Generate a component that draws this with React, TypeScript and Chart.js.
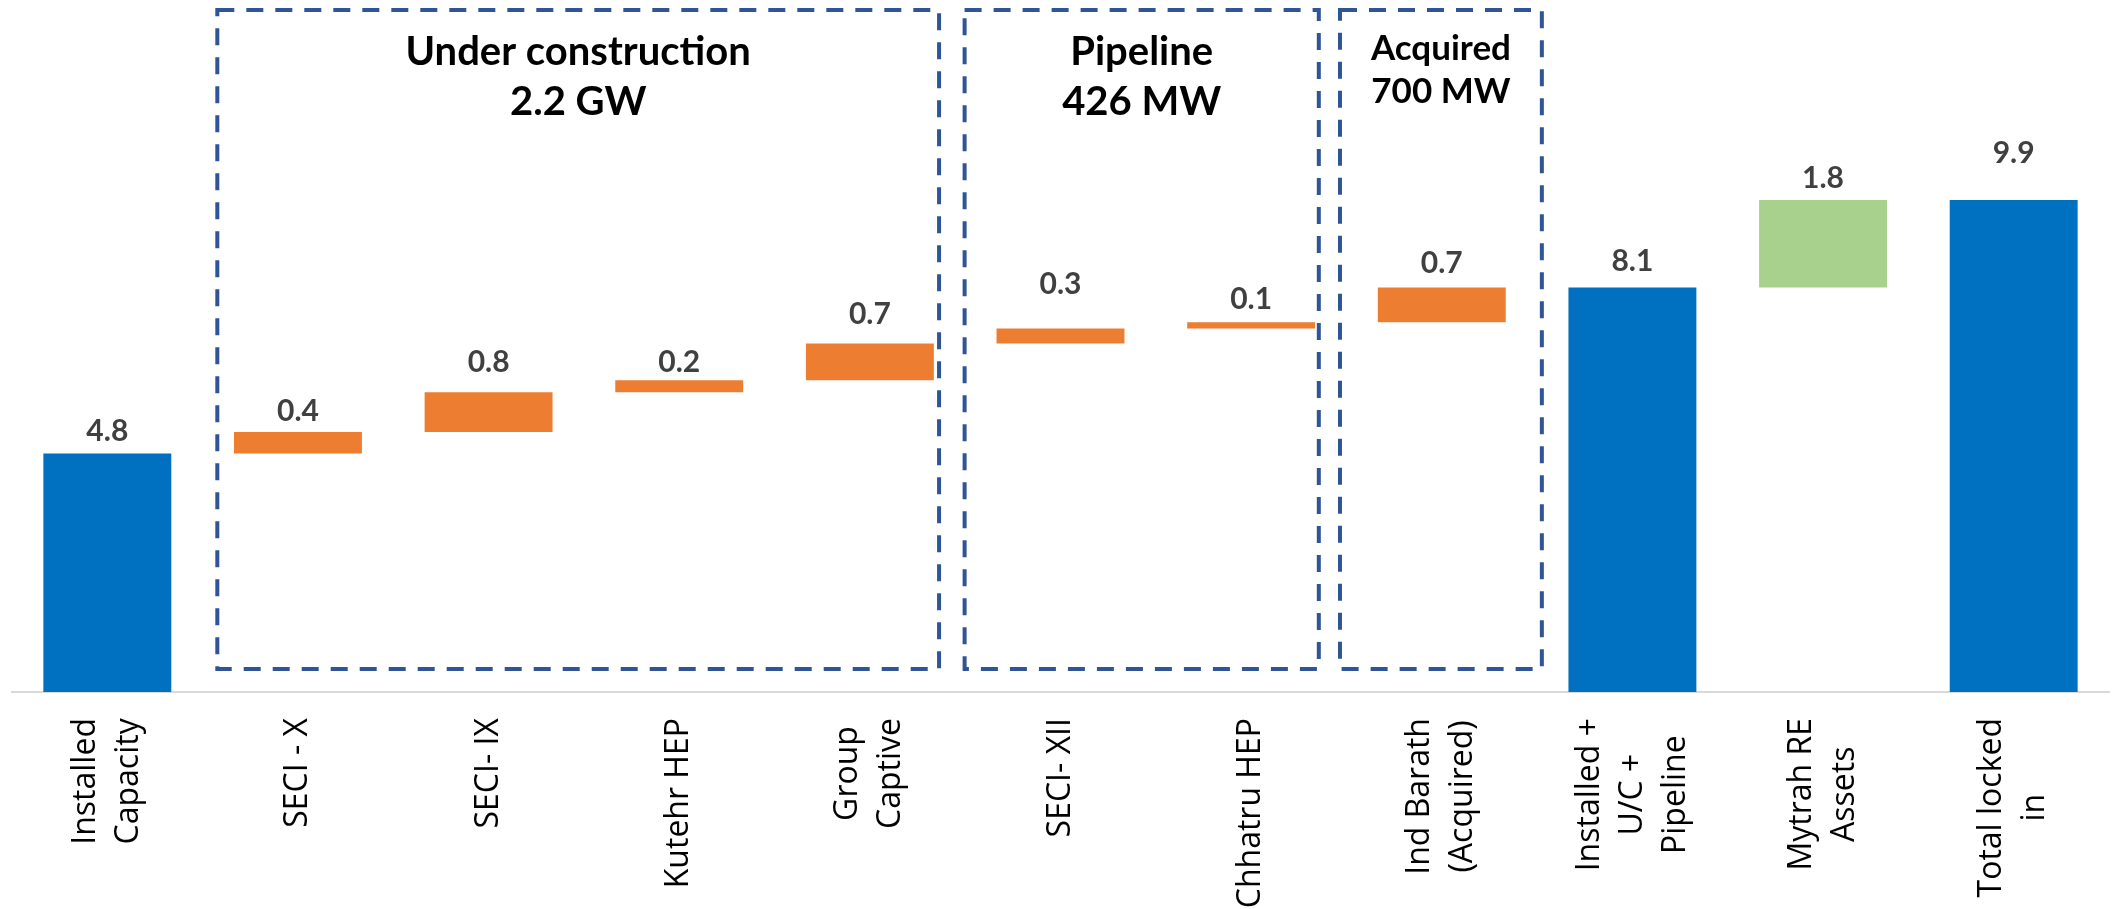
import React, { useEffect, useRef } from "react";
import { Chart, registerables } from "chart.js";

Chart.register(...registerables);

// ---- data ----
const categories: string[][] = [
  ["Installed", "Capacity"],
  ["SECI - X"],
  ["SECI- IX"],
  ["Kutehr HEP"],
  ["Group", "Captive"],
  ["SECI- XII"],
  ["Chhatru HEP"],
  ["Ind Barath", "(Acquired)"],
  ["Installed +", "U/C +", "Pipeline"],
  ["Mytrah RE", "Assets"],
  ["Total locked", "in"],
];
const values = [4.8, 0.43, 0.8, 0.24, 0.74, 0.3, 0.126, 0.7, 8.136, 1.76, 9.896];
const kinds = ["total", "step", "step", "step", "step", "step", "step", "step", "total", "extra", "total"];

// ---- styling / annotations ----
const kindColors: Record<string, string> = { total: "#0070C0", step: "#ED7D31", extra: "#A9D18E" };
const labelGaps = [12, 11, 20, 8, 20, 35, 13, 15, 17, 12, 37];
const groupBoxes = [
  { from: 0.577, to: 4.363, lines: ["Under construction", "2.2 GW"], size: 40, offs: [55, 105] },
  { from: 4.497, to: 6.355, lines: ["Pipeline", "426 MW"], size: 40, offs: [55, 105] },
  { from: 6.466, to: 7.525, lines: ["Acquired", "700 MW"], size: 35, offs: [50, 93] },
];
const boxTopValue = 13.717;
const boxBottomValue = 0.463;

function buildRanges(): [number, number][] {
  let running = 0;
  return values.map((v, i) => {
    if (kinds[i] === "total") {
      running = v;
      return [0, v];
    }
    const r: [number, number] = [running, running + v];
    running += v;
    return r;
  });
}

const overlayPlugin = {
  id: "overlay",
  afterDraw(chart: any) {
    const ctx: CanvasRenderingContext2D = chart.ctx;
    const xs = chart.scales.x;
    const ys = chart.scales.y;
    const area = chart.chartArea;
    const x0 = xs.getPixelForValue(0);
    const step = xs.getPixelForValue(1) - x0;
    const ranges = buildRanges();

    ctx.save();
    // group boxes
    ctx.strokeStyle = "#2F5597";
    ctx.lineWidth = 4;
    ctx.setLineDash([17, 12]);
    const top = ys.getPixelForValue(boxTopValue);
    const bottom = ys.getPixelForValue(boxBottomValue);
    for (const b of groupBoxes) {
      const l = x0 + b.from * step;
      const r = x0 + b.to * step;
      ctx.strokeRect(l, top, r - l, bottom - top);
    }
    ctx.setLineDash([]);
    ctx.fillStyle = "#000000";
    ctx.textAlign = "center";
    ctx.textBaseline = "alphabetic";
    for (const b of groupBoxes) {
      const cx = x0 + ((b.from + b.to) / 2) * step;
      ctx.font = `bold ${b.size}px Lato, "Open Sans", sans-serif`;
      b.lines.forEach((t, k) => ctx.fillText(t, cx, top + b.offs[k]));
    }

    // data labels
    ctx.fillStyle = "#404040";
    ctx.font = `bold 30px Lato, "Open Sans", sans-serif`;
    values.forEach((v, i) => {
      const x = xs.getPixelForValue(i);
      const y = ys.getPixelForValue(ranges[i][1]);
      ctx.fillText(v.toFixed(1), x, y - labelGaps[i]);
    });

    // category labels (rotated, centered lines)
    ctx.fillStyle = "#000000";
    ctx.font = `32px "Open Sans", sans-serif`;
    const lh = 43;
    categories.forEach((lines, i) => {
      const x = xs.getPixelForTick(i);
      const yTop = area.bottom + 26;
      const maxW = Math.max(...lines.map((t) => ctx.measureText(t).width));
      ctx.save();
      ctx.translate(x, yTop);
      ctx.rotate(-Math.PI / 2);
      ctx.textAlign = "center";
      ctx.textBaseline = "middle";
      lines.forEach((t, k) => {
        const ly = (k - (lines.length - 1) / 2) * lh;
        ctx.fillText(t, -maxW / 2, ly);
      });
      ctx.restore();
    });
    ctx.restore();
  },
};

export default function App() {
  const ref = useRef<HTMLCanvasElement | null>(null);
  useEffect(() => {
    document.body.style.margin = "0";
    document.body.style.overflow = "hidden";
    const canvas = ref.current;
    if (!canvas) return;
    const ranges = buildRanges();
    const chart = new Chart(canvas, {
      type: "bar",
      data: {
        labels: categories.map((c) => c.join(" ")),
        datasets: [
          {
            data: ranges as any,
            backgroundColor: kinds.map((k) => kindColors[k]),
            borderWidth: 0,
            categoryPercentage: 1,
            barPercentage: 0.671,
          },
        ],
      },
      options: {
        responsive: false,
        animation: false,
        layout: { padding: { left: 12, right: 5, top: 0, bottom: 0 } },
        plugins: { legend: { display: false }, tooltip: { enabled: false }, title: { display: false } },
        scales: {
          x: {
            grid: { display: false },
            border: { display: true, color: "#D9D9D9", width: 2 },
            ticks: { display: false },
            afterFit: (scale: any) => {
              scale.height = 217;
            },
          },
          y: {
            display: false,
            min: 0,
            max: 13.92,
          },
        },
      },
      plugins: [overlayPlugin],
    });
    return () => chart.destroy();
  }, []);
  return (
    <div style={{ width: 2114, height: 909 }}>
      <canvas ref={ref} width={2114} height={909} style={{ display: "block" }} />
    </div>
  );
}
